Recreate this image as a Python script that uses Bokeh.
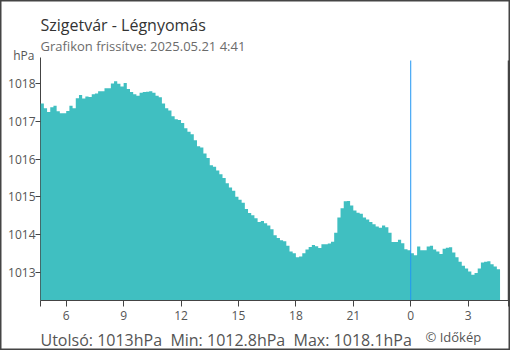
from bokeh.plotting import figure
from bokeh.models import Range1d, FixedTicker, Label
from bokeh.embed import file_html
from bokeh.resources import INLINE

# 10-minute air pressure readings (hPa), starting 4:40 the previous day
pressure = [
    1017.48, 1017.35, 1017.25, 1017.38, 1017.42, 1017.27, 1017.22, 1017.22, 1017.28, 1017.42,
    1017.35, 1017.62, 1017.70, 1017.61, 1017.66, 1017.65, 1017.72, 1017.74, 1017.80, 1017.80,
    1017.88, 1017.88, 1018.01, 1018.07, 1018.00, 1017.93, 1018.02, 1017.86, 1017.78, 1017.72,
    1017.68, 1017.76, 1017.78, 1017.79, 1017.80, 1017.76, 1017.68, 1017.64, 1017.48, 1017.35,
    1017.29, 1017.14, 1017.06, 1017.04, 1016.96, 1016.82, 1016.73, 1016.66, 1016.50, 1016.34,
    1016.31, 1016.15, 1016.03, 1015.84, 1015.80, 1015.70, 1015.60, 1015.50, 1015.36, 1015.25,
    1015.16, 1015.00, 1014.92, 1014.84, 1014.68, 1014.57, 1014.51, 1014.43, 1014.33, 1014.36,
    1014.30, 1014.24, 1014.14, 1013.98, 1013.91, 1013.85, 1013.82, 1013.70, 1013.55, 1013.50,
    1013.40, 1013.42, 1013.50, 1013.60, 1013.67, 1013.72, 1013.69, 1013.64, 1013.74, 1013.74,
    1013.76, 1013.81, 1014.05, 1014.45, 1014.70, 1014.88, 1014.89, 1014.77, 1014.64, 1014.58,
    1014.55, 1014.45, 1014.40, 1014.33, 1014.27, 1014.21, 1014.18, 1014.24, 1014.19, 1014.05,
    1013.80, 1013.80, 1013.86, 1013.77, 1013.61, 1013.58, 1013.50, 1013.45, 1013.68, 1013.58,
    1013.58, 1013.68, 1013.70, 1013.60, 1013.55, 1013.48, 1013.62, 1013.65, 1013.66, 1013.52,
    1013.40, 1013.28, 1013.17, 1013.10, 1013.02, 1012.93, 1012.98, 1013.10, 1013.26, 1013.28,
    1013.29, 1013.21, 1013.15, 1013.08,
]
start_hour = 4 + 40 / 60
step_hours = 10 / 60
hours = [start_hour + i * step_hours for i in range(len(pressure))]

x_ticks = [6, 9, 12, 15, 18, 21, 24, 27]
x_tick_labels = ["6", "9", "12", "15", "18", "21", "0", "3"]
y_ticks = [1013, 1014, 1015, 1016, 1017, 1018]
midnight = 24

title_text = "Szigetvár - Légnyomás"
subtitle_text = "Grafikon frissítve: 2025.05.21 4:41"
unit_text = "hPa"
# non-breaking spaces keep the double gaps visible in SVG text
stats_text = "Utolsó: 1013hPa\u00a0 Min: 1012.8hPa\u00a0 Max: 1018.1hPa"
credit_text = "© Időkép"

FONT = "Open Sans"
FILL = "#40bfc1"
AXIS = "#444444"
W, H = 510, 350

# plotting box (data limits of the chart area)
px_left, px_right = 4.657, 29.109
py_bottom, py_top = 1012.249, 1018.618
# whole canvas expressed in data units (frame covers the canvas; axes sit at fixed locations)
x_lo, x_hi = 2.567, 29.213
y_lo, y_hi = 1010.922, 1020.211

p = figure(width=W, height=H, output_backend="svg", toolbar_location=None,
           x_range=Range1d(x_lo, x_hi), y_range=Range1d(y_lo, y_hi),
           min_border_left=0, min_border_right=0, min_border_top=0, min_border_bottom=0,
           title=None)
p.outline_line_color = AXIS
p.outline_line_width = 2
p.grid.visible = False
p.background_fill_color = "white"
p.border_fill_color = "white"

# left axis line beneath the filled area
p.segment(x0=[px_left], y0=[py_bottom], x1=[px_left], y1=[py_top + 0.08],
          line_color=AXIS, line_width=1, level="underlay")

xs = hours + [hours[-1] + step_hours]
ys = pressure + [pressure[-1]]
p.varea_step(x=xs, y1=py_bottom, y2=ys, step_mode="after", fill_color=FILL)

# midnight marker
p.segment(x0=[midnight], y0=[py_bottom], x1=[midnight], y1=[py_top],
          line_color="#2196f3", line_width=1)
# bottom axis line and right frame line
p.segment(x0=[px_left], y0=[py_bottom], x1=[x_hi], y1=[py_bottom], line_color=AXIS, line_width=1)
p.segment(x0=[px_right], y0=[py_bottom], x1=[px_right], y1=[py_top], line_color=AXIS, line_width=1.5)

xa = p.xaxis[0]
xa.fixed_location = py_bottom
xa.ticker = FixedTicker(ticks=[px_left] + x_ticks + [px_right])
overrides = {x: lab for x, lab in zip(x_ticks, x_tick_labels)}
overrides[px_left] = ""
overrides[px_right] = ""
xa.major_label_overrides = overrides
xa.minor_tick_line_color = None
xa.major_tick_in = 0
xa.major_tick_out = 6
xa.axis_line_color = None
xa.major_tick_line_color = AXIS
xa.major_label_text_font = FONT
xa.major_label_text_font_size = "12px"
xa.major_label_text_color = "#555555"
xa.major_label_standoff = 4

ya = p.yaxis[0]
ya.fixed_location = px_left
ya.ticker = FixedTicker(ticks=y_ticks)
ya.minor_tick_line_color = None
ya.major_tick_in = 0
ya.major_tick_out = 5
ya.axis_line_color = None
ya.major_tick_line_color = AXIS
ya.major_label_text_font = FONT
ya.major_label_text_font_size = "12px"
ya.major_label_text_color = "#555555"
ya.major_label_standoff = 0

# screen positions measured from the canvas' lower-left corner
def add_label(text, x, y, size, color):
    p.add_layout(Label(x=x, y=y, x_units="screen", y_units="screen", text=text,
                       text_font=FONT, text_font_size=size, text_color=color,
                       text_baseline="alphabetic", text_align="left"))

add_label(title_text, 40, H - 24, "16px", "#333333")
add_label(subtitle_text, 40, H - 45, "13px", "#6b6b6b")
add_label(unit_text, 12.7, H - 55, "12px", "#555555")
add_label(stats_text, 40, H - 339.3, "16px", "#555555")
add_label(credit_text, 425, H - 336, "13px", "#555555")

open("out.html", "w").write(file_html(p, INLINE))
